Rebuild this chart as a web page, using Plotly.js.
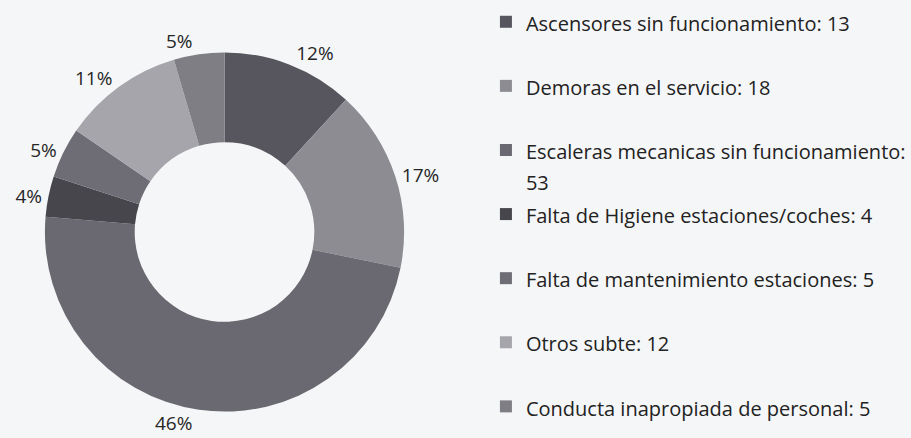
<!DOCTYPE html>
<html>
<head>
<meta charset="utf-8">
<script src="https://cdn.plot.ly/plotly-3.0.1.min.js"></script>
<style>html,body{margin:0;padding:0;background:#f5f6f7;}#chart{width:911px;height:438px;}</style>
</head>
<body>
<div id="chart"></div>
<script>
const categories = [
  "Ascensores sin funcionamiento",
  "Demoras en el servicio",
  "Escaleras mecanicas sin funcionamiento",
  "Falta de Higiene estaciones/coches",
  "Falta de mantenimiento estaciones",
  "Otros subte",
  "Conducta inapropiada de personal"
];
const values = [13, 18, 53, 4, 5, 12, 5];
const percentLabels = ["12%", "17%", "46%", "4%", "5%", "11%", "5%"];
const sliceColors = ["#57565e", "#8d8c93", "#6a6971", "#47464d", "#6e6d75", "#a6a5ab", "#7f7e85"];

const legendNames = categories.map((c, i) => {
  const full = c + ": " + values[i];
  const last = i === categories.length - 1;
  let body;
  if (full.length > 38) body = c + ":<br>" + values[i];
  else body = last ? full : full + "<br>\u00a0";
  return "<span style='font-size:20px'>" + body + "</span>";
});

const cx = 225, cy = 232, r = 180, W = 911, H = 438;
const trace = {
  type: "pie",
  labels: legendNames,
  values: values,
  text: percentLabels,
  textinfo: "text",
  textposition: "outside",
  sort: false,
  direction: "clockwise",
  rotation: 0,
  hole: 0.5,
  marker: {colors: sliceColors, line: {width: 0}},
  textfont: {family: "Open Sans", size: 19, color: "#262626"},
  outsidetextfont: {family: "Open Sans", size: 19, color: "#262626"},
  domain: {x: [(cx - r) / W, (cx + r) / W], y: [(H - cy - r) / H, (H - cy + r) / H]},
  hoverinfo: "none"
};
const layout = {
  width: W, height: H,
  margin: {l: 0, r: 0, t: 0, b: 0},
  paper_bgcolor: "#f5f6f7",
  plot_bgcolor: "#f5f6f7",
  showlegend: true,
  legend: {
    x: 487 / W, y: 1.0, xanchor: "left", yanchor: "top",
    valign: "top",
    font: {family: "Open Sans", size: 23.5, color: "#222222"},
    bgcolor: "rgba(0,0,0,0)",
    borderwidth: 0
  }
};
Plotly.newPlot("chart", [trace], layout, {displayModeBar: false, staticPlot: true});
</script>
</body>
</html>
